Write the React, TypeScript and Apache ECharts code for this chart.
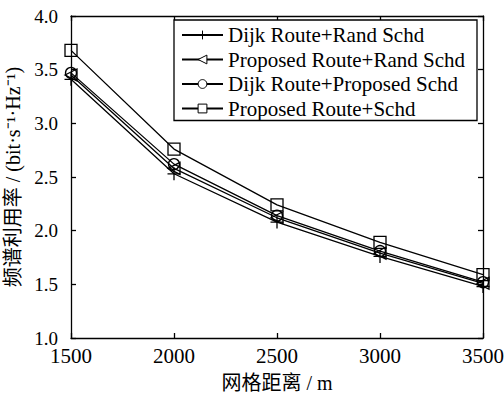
import React, { useEffect, useRef } from "react";
import * as echarts from "echarts";

const xValues = [1500, 2000, 2500, 3000, 3500];
const seriesNames = [
  "Dijk Route+Rand Schd",
  "Proposed Route+Rand Schd",
  "Dijk Route+Proposed Schd",
  "Proposed Route+Schd",
];
const dijkRand = [3.41, 2.53, 2.08, 1.76, 1.48];
const propRand = [3.45, 2.58, 2.12, 1.79, 1.51];
const dijkProp = [3.47, 2.62, 2.14, 1.81, 1.52];
const propBoth = [3.68, 2.76, 2.24, 1.89, 1.59];
const yTicks = { min: 1.0, max: 4.0, interval: 0.5 };
const xTicks = { min: 1500, max: 3500, interval: 500 };

const FONT = "'Liberation Serif', 'Times New Roman', 'Noto Sans CJK SC', serif";

export default function App() {
  const ref = useRef<HTMLDivElement>(null);
  useEffect(() => {
    if (!ref.current) return;
    const chart = echarts.init(ref.current, undefined, { renderer: "svg" });
    const symbols = [
      { symbol: "path://M0,-10L0,10M-10,0L10,0", rotate: 0, size: 13 },
      { symbol: "triangle", rotate: 90, size: 12 },
      { symbol: "circle", rotate: 0, size: 11 },
      { symbol: "rect", rotate: 0, size: 12 },
    ];
    const datas = [dijkRand, propRand, dijkProp, propBoth];
    const series = datas.map((d, i) => ({
      name: seriesNames[i],
      type: "line",
      data: d.map((v, j) => [xValues[j], v]),
      symbol: symbols[i].symbol,
      symbolRotate: symbols[i].rotate,
      symbolSize: symbols[i].size,
      showAllSymbol: true,
      lineStyle: { color: "#000", width: 1.3 },
      itemStyle: {
        color: i === 0 ? "none" : "rgba(255,255,255,0)",
        borderColor: "#000",
        borderWidth: 1.3,
      },
      z: 3 + i,
    }));
    const axisLine = { show: true, lineStyle: { color: "#000", width: 1.3 } };
    const axisTick = { show: true, inside: true, length: 5, lineStyle: { color: "#000", width: 1.3 } };
    chart.setOption({
      animation: false,
      backgroundColor: "#fff",
      grid: { left: 71, right: 21, top: 16, bottom: 59, outerBoundsMode: "none", containLabel: false },
      legend: {
        show: true,
        orient: "vertical",
        left: 174,
        top: 20,
        backgroundColor: "#fff",
        borderColor: "#000",
        borderWidth: 1.3,
        borderRadius: 0,
        padding: [4, 12, 1, 7],
        itemWidth: 41,
        itemHeight: 11,
        itemGap: 2.5,
        itemStyle: { color: "#fff", borderColor: "#000", borderWidth: 1 },
        textStyle: { fontFamily: FONT, fontSize: 21, lineHeight: 22, color: "#000" },
        data: seriesNames,
      },
      xAxis: [
        {
          type: "value",
          ...xTicks,
          position: "bottom",
          axisLine,
          axisTick,
          splitLine: { show: false },
          axisLabel: {
            color: "#000",
            fontFamily: FONT,
            fontSize: 21,
            margin: 7,
            formatter: (v: number) => String(v),
          },
          name: "网格距离 / m",
          nameLocation: "middle",
          nameGap: 35,
          nameTextStyle: { color: "#000", fontFamily: FONT, fontSize: 20 },
        },
        {
          type: "value",
          ...xTicks,
          position: "top",
          axisLine,
          axisTick,
          splitLine: { show: false },
          axisLabel: { show: false },
        },
      ],
      yAxis: [
        {
          type: "value",
          ...yTicks,
          position: "left",
          axisLine,
          axisTick,
          splitLine: { show: false },
          axisLabel: {
            color: "#000",
            fontFamily: FONT,
            fontSize: 19,
            margin: 13,
            formatter: (v: number) => v.toFixed(1),
          },
          name: "频谱利用率 / (bit·s⁻¹·Hz⁻¹)",
          nameLocation: "middle",
          nameGap: 38,
          nameTextStyle: { color: "#000", fontFamily: FONT, fontSize: 20 },
        },
        {
          type: "value",
          ...yTicks,
          position: "right",
          axisLine,
          axisTick,
          splitLine: { show: false },
          axisLabel: { show: false },
        },
      ],
      series,
    });
    return () => chart.dispose();
  }, []);
  return <div ref={ref} style={{ width: 504, height: 397, position: "absolute", left: 0, top: 0 }} />;
}
